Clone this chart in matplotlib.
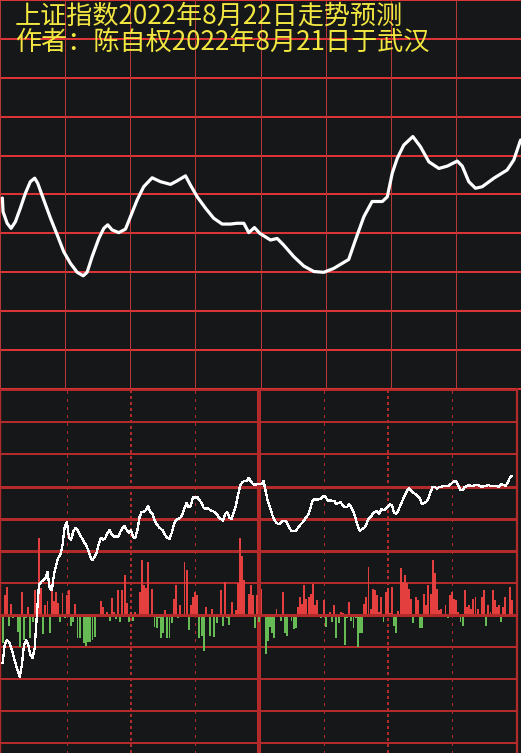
import matplotlib
matplotlib.use('Agg')
import matplotlib.pyplot as plt
import numpy as np

plt.rcParams['font.family'] = ['Noto Sans CJK SC', 'DejaVu Sans']

title1 = '上证指数2022年8月22日走势预测'
title2 = '作者：陈自权2022年8月21日于武汉'

# top panel: smooth forecast curve (minutes, grid units)
top_t = [0.9, 1.2, 3.1, 4.9, 6.9, 9.2, 11.5, 13.8, 15.8, 17.2, 20.0, 23.1, 26.2, 29.2, 32.3,
         35.4, 38.2, 40.0, 42.3, 45.4, 47.7, 49.5, 51.5, 54.6, 57.7, 60.0, 63.1, 66.1, 70.0,
         73.8, 78.5, 81.5, 85.4, 87.7, 90.8, 94.6, 98.4, 102.3, 106.1, 109.2, 112.3, 114.6,
         117.2, 119.7, 124.6, 127.7, 130.7, 135.4, 140.0, 144.6, 149.2, 153.8, 160.7, 163.8,
         167.7, 171.5, 176.2, 178.5, 180.8, 183.1, 186.1, 190.3, 193.8, 197.7, 202.3, 206.2,
         210.8, 213.1, 216.1, 219.2, 222.3, 227.7, 233.8, 236.9, 240.0]
top_v = [4.91, 4.56, 4.26, 4.13, 4.30, 4.65, 5.03, 5.33, 5.42, 5.29, 4.86, 4.39, 3.96, 3.53, 3.23,
         3.00, 2.91, 3.00, 3.40, 3.87, 4.13, 4.22, 4.09, 4.02, 4.11, 4.43, 4.86, 5.20, 5.43,
         5.33, 5.26, 5.35, 5.48, 5.24, 4.94, 4.65, 4.39, 4.24, 4.24, 4.26, 4.26, 4.02,
         4.15, 4.00, 3.83, 3.87, 3.70, 3.40, 3.16, 3.02, 3.00, 3.10, 3.33, 3.83,
         4.43, 4.82, 4.82, 4.94, 5.55, 5.93, 6.27, 6.49, 6.23, 5.84, 5.67, 5.73,
         5.86, 5.73, 5.33, 5.16, 5.20, 5.42, 5.63, 5.89, 6.40]

# bottom panel: minute line (grid units, one value per minute)
line_v = [-1.50, -0.93, -0.78, -0.84, -1.03, -1.25, -1.50, -1.71, -1.93, -1.56,
          -0.93, -0.78, -0.93, -1.25, -1.34, -1.03, 0.00, 0.93, 1.03, 1.09,
          1.15, 1.34, 0.84, 0.78, 1.25, 1.56, 1.78, 1.87, 2.18, 2.74,
          2.90, 2.43, 2.34, 2.59, 2.71, 2.65, 2.52, 2.40, 2.27, 2.18,
          2.02, 1.81, 1.71, 1.81, 1.96, 2.24, 2.40, 2.34, 2.40, 2.55,
          2.65, 2.52, 2.43, 2.46, 2.43, 2.59, 2.71, 2.77, 2.65, 2.55,
          2.65, 2.43, 2.40, 2.65, 3.05, 3.21, 3.21, 3.27, 3.40, 3.21,
          3.15, 2.96, 2.83, 2.74, 2.68, 2.62, 2.49, 2.40, 2.37, 2.55,
          2.80, 2.96, 2.99, 3.02, 3.12, 3.33, 3.49, 3.36, 3.40, 3.68,
          3.64, 3.68, 3.58, 3.49, 3.33, 3.30, 3.33, 3.27, 3.24, 3.21,
          3.15, 3.05, 2.99, 2.93, 3.15, 3.21, 3.02, 2.99, 3.18, 3.40,
          3.74, 4.02, 4.14, 4.17, 4.17, 4.27, 4.17, 4.08, 4.05, 4.08,
          4.08, 4.08, 4.17, 3.83, 3.52, 3.36, 3.12, 2.96, 2.87, 2.83,
          2.87, 2.93, 2.93, 2.87, 2.71, 2.62, 2.62, 2.62, 2.71, 2.80,
          2.87, 2.96, 3.05, 3.15, 3.36, 3.58, 3.61, 3.58, 3.61, 3.64,
          3.71, 3.68, 3.55, 3.58, 3.55, 3.55, 3.46, 3.49, 3.52, 3.40,
          3.36, 3.36, 3.46, 3.33, 3.21, 2.99, 2.77, 2.62, 2.68, 2.71,
          2.83, 2.99, 3.05, 3.15, 3.21, 3.24, 3.15, 3.30, 3.27, 3.30,
          3.36, 3.46, 3.40, 3.18, 3.15, 3.27, 3.43, 3.58, 3.74, 3.86,
          3.96, 3.86, 3.80, 3.77, 3.71, 3.64, 3.46, 3.49, 3.52, 3.64,
          3.83, 3.99, 3.99, 3.93, 3.99, 3.99, 4.02, 4.02, 4.02, 4.05,
          4.11, 4.17, 4.17, 4.02, 3.89, 3.89, 3.99, 4.02, 4.05, 4.02,
          4.02, 4.05, 4.05, 4.02, 3.99, 4.02, 4.02, 4.05, 4.02, 4.02,
          4.02, 4.02, 3.99, 4.08, 4.05, 4.02, 4.11, 4.27, 4.33]

# bottom panel: volume-like bars (minute, grid units; + red, - green)
bar_t = [0, 1, 2, 3, 4, 5, 7, 8, 9, 10, 11, 12, 13, 14, 15, 17, 18, 19, 20, 21,
         22, 23, 24, 25, 26, 27, 28, 29, 30, 31, 32, 33, 34, 35, 36, 38, 39, 40, 41, 42,
         43, 46, 47, 49, 50, 51, 52, 53, 54, 55, 56, 57, 58, 59, 60, 61, 62, 64, 65, 66,
         67, 68, 70, 71, 72, 73, 74, 75, 76, 77, 78, 79, 80, 81, 82, 83, 84, 85, 86, 87,
         88, 89, 90, 91, 92, 93, 94, 95, 97, 98, 99, 100, 101, 102, 103, 104, 105, 106, 107, 109,
         110, 111, 112, 113, 115, 116, 117, 118, 119, 120, 121, 123, 124, 125, 126, 127, 128, 130, 131, 132,
         133, 135, 136, 137, 138, 139, 140, 141, 142, 143, 144, 145, 146, 147, 149, 150, 151, 153, 154, 155,
         156, 157, 158, 159, 160, 161, 162, 163, 164, 165, 166, 167, 168, 169, 170, 171, 172, 173, 174, 175,
         176, 177, 178, 179, 180, 181, 182, 183, 184, 185, 186, 187, 188, 189, 190, 191, 192, 193, 194, 195,
         196, 197, 198, 199, 200, 201, 202, 203, 204, 205, 206, 207, 208, 209, 210, 211, 212, 213, 214, 215,
         216, 217, 218, 219, 220, 221, 222, 224, 225, 226, 227, 228, 229, 230, 231, 232, 233, 234, 235, 237,
         238]
bar_v = [-0.88, 0.62, 0.88, -0.33, 0.34, -0.10, -0.52, -0.99, 0.73, -0.78, -0.10, 0.26, -0.73, -0.21, 0.78, 2.39, 0.83, -0.59, 0.31, 0.42,
         -0.57, 0.88, 0.42, 0.73, 0.36, -0.21, 0.67, -0.10, 0.62, 0.78, -0.33, -0.21, 0.34, -0.73, -0.73, -0.88, -0.96, -0.85, -0.85, -0.78,
         -0.70, 0.42, 0.26, 0.10, -0.18, 0.52, 0.10, -0.14, 0.78, -0.23, 0.78, 1.25, 0.36, -0.21, 0.10, -0.19, 0.10, 0.73, 1.71, 0.93,
         0.83, 1.66, 0.80, -0.36, -0.42, -0.10, -0.71, -0.55, 0.16, -0.71, -0.71, -0.26, 0.49, 0.93, -0.10, 0.31, -0.05, 1.66, 1.40, -0.47,
         0.31, 0.57, 0.71, 0.62, -0.71, -0.64, -1.11, 0.26, -0.64, 0.19, -0.70, -0.26, -0.05, 0.78, -0.33, 1.04, -0.10, -0.31, 0.39, 0.14,
         1.01, 2.39, 1.84, 1.09, 0.65, 0.93, 0.62, -0.42, 0.62, -0.21, 0.80, -1.23, -0.80, -0.36, -0.57, -0.73, 0.19, -0.18, 0.71, -0.55,
         -0.64, -0.18, -0.44, -0.42, 0.26, 0.57, 0.34, 0.93, 0.49, 0.55, 0.65, 0.97, 0.31, 0.47, -0.10, 0.47, -0.36, 0.10, -0.21, 0.31,
         -0.73, -0.26, 0.10, 0.07, -0.93, -0.10, 0.39, -0.18, -0.42, -0.10, -1.01, -0.57, -0.57, 0.34, 0.57, 1.51, 0.19, 0.80, 0.78, 0.62,
         0.08, 0.57, -0.21, 0.73, 0.83, 0.05, 0.88, -0.33, -0.55, 0.12, 1.47, 1.04, 1.25, 0.99, 0.81, 0.50, -0.26, 0.57, 0.47, -0.42,
         -0.42, 0.65, 0.31, 0.93, 0.65, 1.71, 1.30, 0.81, 0.14, 0.18, -0.05, 0.31, -0.10, 0.62, 0.71, 0.49, 0.47, 0.10, -0.21, -0.33,
         0.78, 0.26, 0.31, 0.18, 0.50, 0.55, 0.19, 0.55, 0.78, -0.33, 0.31, 0.10, 0.78, 0.47, 0.26, 0.31, -0.21, 0.26, 0.57, 0.88,
         0.47]

bg = '#161719'
red_hi = '#dc3434'
red_vert = '#b83838'
red_lo = '#b22a2a'
yellow = '#f2e640'

fig = plt.figure(figsize=(5.21, 7.53), dpi=100, facecolor=bg)

# ---- top panel ----
ax1 = fig.add_axes([0, 1 - 389 / 753, 1, 389 / 753])
ax1.set_facecolor(bg)
ax1.set_xlim(-0.2, 240.2)
ax1.set_ylim(0, 10)
ax1.axis('off')
for v in range(0, 11):
    ax1.axhline(v, color=red_hi, lw=1.1, antialiased=False, clip_on=False, zorder=1)
for t in range(0, 241, 30):
    ax1.axvline(t, color=red_vert, lw=0.7, antialiased=False, clip_on=False, zorder=1)
ax1.plot(top_t, top_v, color='white', lw=2.3, solid_capstyle='round', zorder=3)

# ---- bottom panel ----
ax2 = fig.add_axes([0, 0, 517 / 521, 364 / 753])
ax2.set_facecolor(bg)
ax2.set_xlim(-1.215, 240.4)
ax2.set_ylim(-4.30, 7.04)
for s in ['top', 'bottom']:
    ax2.spines[s].set_visible(False)
ax2.spines['left'].set_color(red_lo)
ax2.spines['left'].set_linewidth(1.0)
ax2.spines['right'].set_color(red_lo)
ax2.spines['right'].set_linewidth(1.6)
ax2.set_xticks([])
ax2.set_yticks([])

thick = {7: 1.3, 6: 1.3, 5: 1.3, 4: 0.8, 3: 0.8, 2: 0.8, 1: 1.3, 0: 2.1,
         -1: 1.2, -2: 1.2, -3: 1.1, -4: 1.1}
for v, w in thick.items():
    ax2.axhline(v, color=red_lo, lw=w, antialiased=False, zorder=3 if v == 0 else 1)

for t in [30, 90, 150, 210]:
    ax2.axvline(t, color=red_lo, lw=0.8, linestyle=(0, (2, 5)), antialiased=False, zorder=1)
for t in [60, 180]:
    ax2.axvline(t, color=red_lo, lw=1.5, linestyle=(0, (1, 1.6)), antialiased=False, zorder=1)
ax2.axvline(120, color=red_lo, lw=1.5, antialiased=False, zorder=1)

bt = np.array(bar_t)
bv = np.array(bar_v)
colors = np.where(bv >= 0, '#e33f3f', '#66bb55')
ax2.bar(bt, bv, width=0.9, bottom=0, color=colors, linewidth=0, antialiased=False, zorder=2)

ax2.plot(np.arange(len(line_v)), line_v, color='white', lw=0.9, antialiased=False, zorder=4)

# ---- titles ----
fig.text(15 / 521, 1 - 16.5 / 753, title1, color=yellow, fontsize=18.8, va='center', ha='left')
fig.text(15 / 521, 1 - 42.5 / 753, title2, color=yellow, fontsize=18.8, va='center', ha='left')

fig.savefig('out.png', dpi=100, facecolor=bg)
